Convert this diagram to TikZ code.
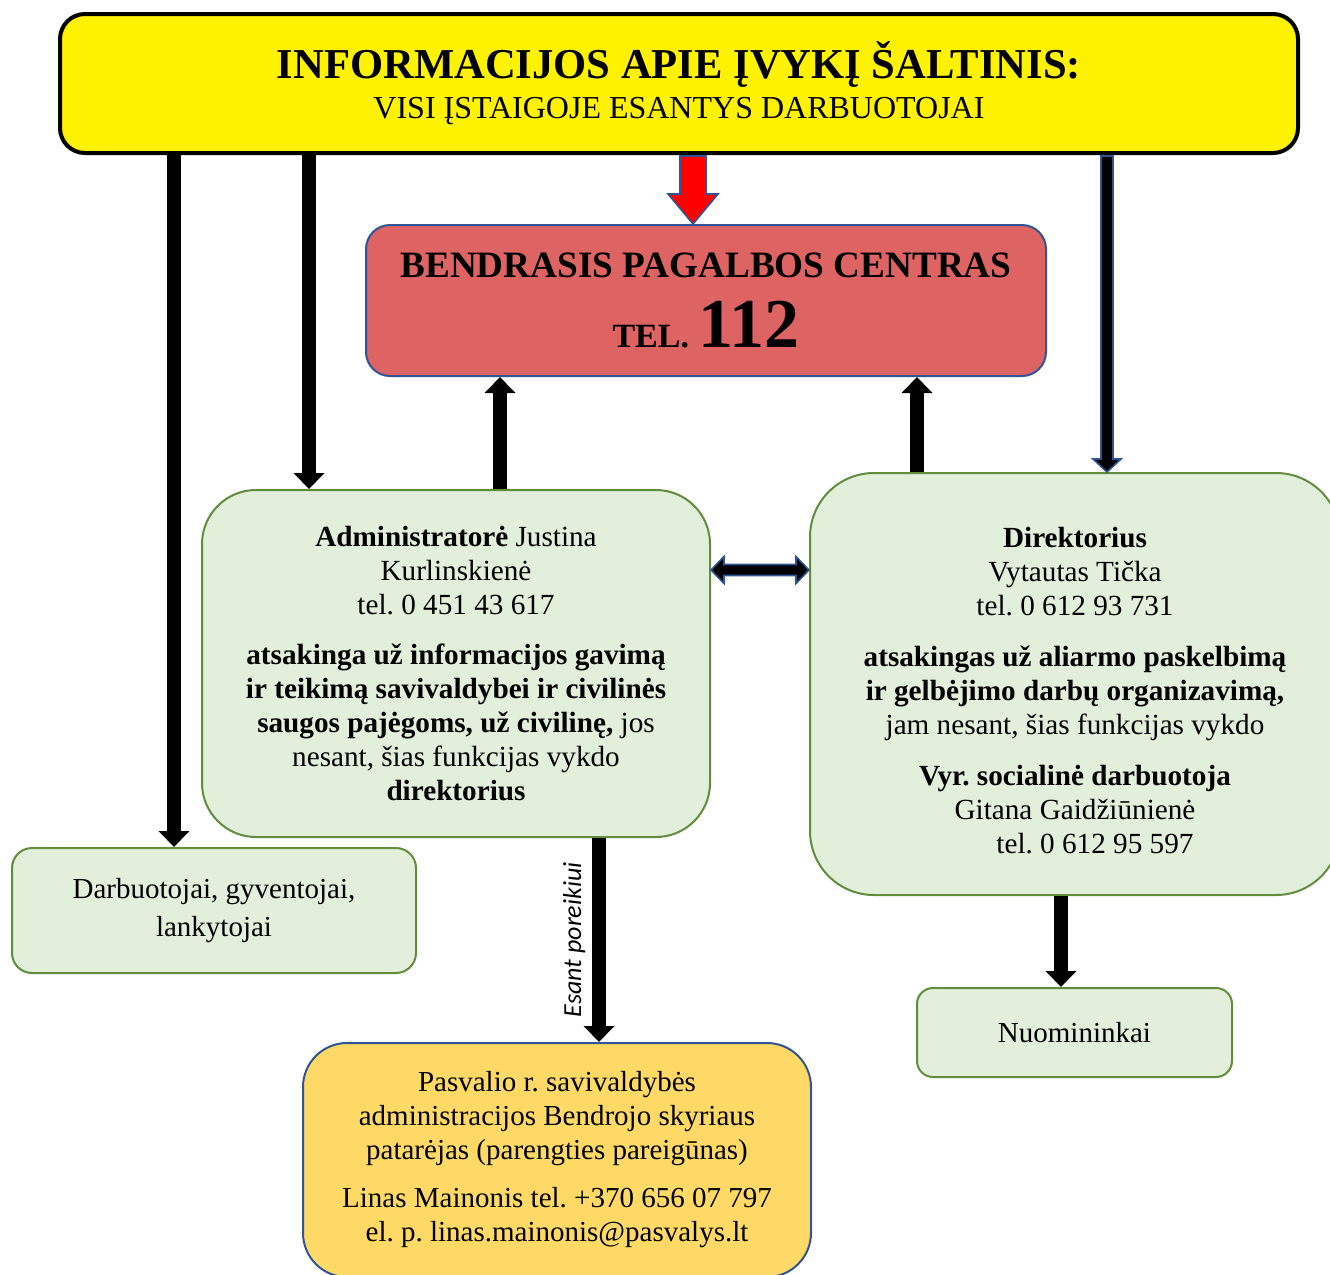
\documentclass[tikz,border=0pt]{standalone}
\usepackage{fontspec}
\setmainfont{Liberation Serif}
\newfontfamily\calibri{Carlito}
\usetikzlibrary{arrows.meta,calc}
\frenchspacing

\definecolor{boxgreen}{RGB}{226,239,218}
\definecolor{edgegreen}{RGB}{98,140,62}
\definecolor{alarmred}{RGB}{222,100,100}
\definecolor{edgeblue}{RGB}{47,85,151}
\definecolor{boxgold}{RGB}{255,217,102}

\tikzset{
  greenbox/.style={draw=edgegreen, line width=1pt, fill=boxgreen, align=center,
    inner sep=0pt, font=\fontsize{14.6}{17}\selectfont},
  feed/.style={line width=7pt, -{Triangle[width=15pt,length=8pt]}},
  block/.style={draw=edgeblue, line width=0.8pt, fill=black, line join=miter},
}

\begin{document}
\begin{tikzpicture}[x=0.5pt,y=-0.5pt]
\useasboundingbox (0,0) rectangle (1330,1275);

\node (source) at (679,83.5) [draw, line width=2pt, fill=yellow, rounded corners=12.5pt,
  minimum width=619pt, minimum height=69.5pt, inner sep=0pt, align=center,
  font=\fontsize{16}{20}\selectfont]
  {{\fontsize{21.3}{24}\selectfont\bfseries INFORMACIJOS APIE ĮVYKĮ ŠALTINIS:}\\
   VISI ĮSTAIGOJE ESANTYS DARBUOTOJAI};

\node (center112) at (706,300.5) [draw=edgeblue, line width=1pt, fill=alarmred,
  rounded corners=12pt, minimum width=340pt, minimum height=75.5pt, inner sep=0pt,
  align=center, font=\bfseries\fontsize{18.6}{22}\selectfont]
  {BENDRASIS PAGALBOS CENTRAS\\[11pt]
   {\fontsize{17}{20}\selectfont TEL.} {\fontsize{35}{36}\selectfont 112}};

\node (admin) at (456,663.5) [greenbox, rounded corners=27pt,
  minimum width=254pt, minimum height=173.5pt]
  {\textbf{Administratorė} Justina\\
   Kurlinskienė\\
   tel. 0 451 43 617\\[8pt]
   \textbf{atsakinga už informacijos gavimą}\\
   \textbf{ir teikimą savivaldybei ir civilinės}\\
   \textbf{saugos pajėgoms, už civilinę,} jos\\
   nesant, šias funkcijas vykdo\\
   \textbf{direktorius}};

\node (director) at (1075,684) [greenbox, rounded corners=32pt,
  minimum width=265pt, minimum height=211pt]
  {\rule{0pt}{16.5pt}\textbf{Direktorius}\\
   Vytautas Tička\\
   tel. 0 612 93 731\\[8.5pt]
   \textbf{atsakingas už aliarmo paskelbimą}\\
   \textbf{ir gelbėjimo darbų organizavimą,}\\
   jam nesant, šias funkcijas vykdo\\[8.5pt]
   \textbf{Vyr. socialinė darbuotoja}\\
   Gitana Gaidžiūnienė\\
   \hspace*{20pt}tel. 0 612 95 597};

\node (staff) at (214,910.5) [greenbox, rounded corners=10pt,
  minimum width=202pt, minimum height=62.5pt, font=\fontsize{14.5}{19}\selectfont]
  {Darbuotojai, gyventojai,\\ lankytojai};

\node (tenants) at (1074.5,1032.5) [greenbox, rounded corners=8pt,
  minimum width=157.5pt, minimum height=44.5pt, font=\fontsize{14.5}{17}\selectfont]
  {Nuomininkai};

\node (municipality) at (557,1160) [draw=edgeblue, line width=1pt, fill=boxgold,
  rounded corners=22pt, minimum width=254pt, minimum height=117pt, inner sep=0pt,
  align=center, font=\fontsize{14.5}{17}\selectfont]
  {Pasvalio r. savivaldybės\\
   administracijos Bendrojo skyriaus\\
   patarėjas (parengties pareigūnas)\\[7pt]
   Linas Mainonis tel. +370 656 07 797\\
   el. p. linas.mainonis@pasvalys.lt};

% plain arrows
\draw[feed] (source.south -| 174,0) -- (staff.north -| 174,0);
\draw[feed] (source.south -| 309,0) -- (admin.north -| 309,0);
\draw[feed] (admin.north -| 500,0) -- (center112.south -| 500,0);
\draw[feed] (director.north -| 917,0) -- (center112.south -| 917,0);
\draw[feed] (admin.south -| 599,0) -- node[rotate=90, above=0pt,
  font=\calibri\itshape\fontsize{13}{15}\selectfont] {Esant poreikiui}
  (municipality.north -| 599,0);
\draw[feed] (director.south -| 1061,0) -- (tenants.north -| 1061,0);

% block arrows
\coordinate (redtop) at (source.south -| 693,0);
\coordinate (redtip) at (center112.north -| 693,0);
\draw[block, fill=red] ($(redtop)+(-13,1)$) -- ($(redtip)+(-13,-30)$) -- ($(redtip)+(-25,-30)$)
  -- (redtip) -- ($(redtip)+(25,-30)$) -- ($(redtip)+(13,-30)$) -- ($(redtop)+(13,1)$) -- cycle;

\coordinate (righttop) at (source.south -| 1107,0);
\coordinate (righttip) at (director.north -| 1107,0);
\draw[block] ($(righttop)+(-6,1)$) -- ($(righttip)+(-6,-13)$) -- ($(righttip)+(-14,-13)$)
  -- (righttip) -- ($(righttip)+(14,-13)$) -- ($(righttip)+(6,-13)$) -- ($(righttop)+(6,1)$) -- cycle;

\coordinate (pairleft) at (admin.east |- 0,570);
\coordinate (pairright) at (director.west |- 0,570);
\draw[block] (pairleft) -- ($(pairleft)+(13,-13.5)$) -- ($(pairleft)+(13,-5.5)$)
  -- ($(pairright)+(-13,-5.5)$) -- ($(pairright)+(-13,-13.5)$) -- (pairright)
  -- ($(pairright)+(-13,13.5)$) -- ($(pairright)+(-13,5.5)$) -- ($(pairleft)+(13,5.5)$)
  -- ($(pairleft)+(13,13.5)$) -- cycle;
\end{tikzpicture}
\end{document}
